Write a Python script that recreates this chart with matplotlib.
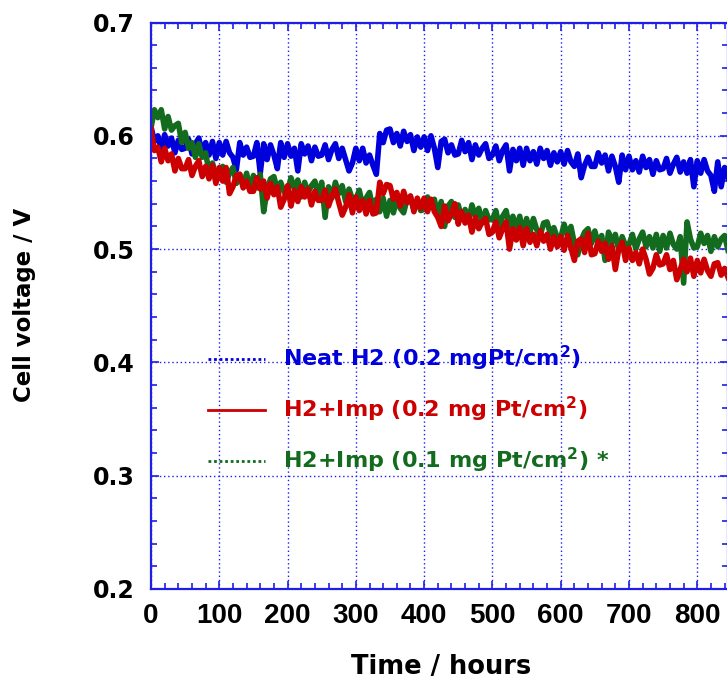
import numpy as np
import matplotlib
matplotlib.use("Agg")
import matplotlib.pyplot as plt
from matplotlib.lines import Line2D
from matplotlib.ticker import MultipleLocator

plt.rcParams["mathtext.default"] = "bf"

# Sampling times (hours), one reading every 5 h
hours = np.arange(0, 850, 5)

# Cell voltage (V) for each test
neat_h2 = [
    0.608, 0.595, 0.600, 0.588, 0.601, 0.591, 0.598, 0.585, 0.596, 0.588,
    0.589, 0.597, 0.584, 0.593, 0.598, 0.585, 0.594, 0.583, 0.595, 0.580,
    0.594, 0.583, 0.595, 0.585, 0.581, 0.570, 0.594, 0.583, 0.590, 0.581,
    0.582, 0.594, 0.567, 0.593, 0.579, 0.592, 0.583, 0.571, 0.594, 0.581,
    0.593, 0.582, 0.589, 0.569, 0.593, 0.584, 0.591, 0.578, 0.590, 0.582,
    0.583, 0.592, 0.579, 0.588, 0.593, 0.580, 0.589, 0.579, 0.569, 0.576,
    0.589, 0.578, 0.589, 0.576, 0.583, 0.574, 0.566, 0.602, 0.594, 0.605,
    0.606, 0.594, 0.602, 0.591, 0.604, 0.595, 0.601, 0.587, 0.599, 0.590,
    0.599, 0.587, 0.600, 0.589, 0.572, 0.595, 0.597, 0.585, 0.592, 0.583,
    0.584, 0.596, 0.586, 0.594, 0.579, 0.592, 0.583, 0.589, 0.593, 0.580,
    0.583, 0.591, 0.578, 0.587, 0.592, 0.569, 0.588, 0.578, 0.589, 0.574,
    0.589, 0.578, 0.586, 0.575, 0.589, 0.580, 0.587, 0.574, 0.585, 0.577,
    0.586, 0.575, 0.587, 0.577, 0.573, 0.584, 0.563, 0.574, 0.581, 0.573,
    0.573, 0.585, 0.576, 0.583, 0.569, 0.582, 0.573, 0.559, 0.583, 0.570,
    0.582, 0.570, 0.578, 0.568, 0.582, 0.572, 0.579, 0.566, 0.578, 0.570,
    0.571, 0.580, 0.567, 0.575, 0.581, 0.568, 0.577, 0.567, 0.579, 0.555,
    0.578, 0.567, 0.579, 0.569, 0.565, 0.551, 0.577, 0.555, 0.572, 0.563,
]

imp_02 = [
    0.606, 0.587, 0.590, 0.577, 0.589, 0.578, 0.584, 0.569, 0.580, 0.571,
    0.571, 0.579, 0.565, 0.573, 0.578, 0.564, 0.573, 0.562, 0.574, 0.558,
    0.572, 0.560, 0.572, 0.549, 0.555, 0.565, 0.566, 0.554, 0.560, 0.551,
    0.551, 0.563, 0.553, 0.560, 0.545, 0.558, 0.548, 0.555, 0.537, 0.544,
    0.556, 0.538, 0.552, 0.542, 0.555, 0.546, 0.553, 0.539, 0.551, 0.543,
    0.543, 0.552, 0.538, 0.547, 0.553, 0.541, 0.530, 0.537, 0.548, 0.532,
    0.546, 0.534, 0.543, 0.531, 0.543, 0.531, 0.532, 0.559, 0.549, 0.557,
    0.556, 0.544, 0.550, 0.538, 0.551, 0.541, 0.547, 0.533, 0.545, 0.536,
    0.545, 0.533, 0.544, 0.533, 0.528, 0.520, 0.538, 0.525, 0.531, 0.540,
    0.522, 0.533, 0.523, 0.530, 0.515, 0.528, 0.518, 0.524, 0.527, 0.513,
    0.515, 0.524, 0.510, 0.518, 0.524, 0.500, 0.518, 0.508, 0.519, 0.503,
    0.518, 0.506, 0.513, 0.503, 0.516, 0.507, 0.513, 0.500, 0.511, 0.502,
    0.511, 0.499, 0.512, 0.501, 0.490, 0.507, 0.509, 0.497, 0.514, 0.495,
    0.496, 0.507, 0.498, 0.505, 0.491, 0.503, 0.482, 0.500, 0.506, 0.490,
    0.501, 0.490, 0.497, 0.487, 0.500, 0.491, 0.478, 0.483, 0.495, 0.486,
    0.487, 0.495, 0.482, 0.490, 0.473, 0.482, 0.491, 0.480, 0.492, 0.476,
    0.490, 0.479, 0.491, 0.481, 0.476, 0.487, 0.488, 0.477, 0.483, 0.475,
]

imp_01 = [
    0.607, 0.623, 0.616, 0.623, 0.606, 0.617, 0.605, 0.609, 0.611, 0.594,
    0.603, 0.589, 0.594, 0.581, 0.593, 0.581, 0.585, 0.568, 0.576, 0.566,
    0.565, 0.573, 0.559, 0.567, 0.572, 0.558, 0.566, 0.556, 0.567, 0.552,
    0.565, 0.554, 0.566, 0.533, 0.552, 0.562, 0.564, 0.552, 0.559, 0.550,
    0.551, 0.563, 0.553, 0.561, 0.546, 0.559, 0.550, 0.556, 0.560, 0.547,
    0.559, 0.528, 0.555, 0.545, 0.559, 0.549, 0.556, 0.542, 0.553, 0.544,
    0.544, 0.552, 0.538, 0.545, 0.550, 0.536, 0.544, 0.533, 0.545, 0.529,
    0.543, 0.532, 0.545, 0.536, 0.532, 0.544, 0.546, 0.535, 0.542, 0.534,
    0.535, 0.546, 0.537, 0.544, 0.529, 0.542, 0.520, 0.538, 0.542, 0.528,
    0.539, 0.527, 0.535, 0.525, 0.539, 0.529, 0.536, 0.523, 0.534, 0.526,
    0.526, 0.534, 0.520, 0.529, 0.534, 0.520, 0.529, 0.518, 0.529, 0.513,
    0.527, 0.515, 0.527, 0.517, 0.512, 0.523, 0.524, 0.513, 0.519, 0.510,
    0.510, 0.522, 0.512, 0.520, 0.505, 0.495, 0.508, 0.515, 0.518, 0.505,
    0.516, 0.504, 0.512, 0.490, 0.515, 0.506, 0.513, 0.499, 0.511, 0.503,
    0.504, 0.513, 0.500, 0.509, 0.515, 0.502, 0.511, 0.501, 0.513, 0.498,
    0.512, 0.501, 0.514, 0.504, 0.500, 0.511, 0.470, 0.524, 0.509, 0.501,
    0.502, 0.514, 0.505, 0.512, 0.498, 0.511, 0.502, 0.509, 0.512, 0.499,
]

labels = [
    r"Neat H2 (0.2 mgPt/cm$^{2}$)",
    r"H2+Imp (0.2 mg Pt/cm$^{2}$)",
    r"H2+Imp (0.1 mg Pt/cm$^{2}$) *",
]
colors = ["#0000DC", "#CC0000", "#136B1E"]
styles = [(0, (1, 1)), "-", (0, (1, 1))]

x_ticks = [0, 100, 200, 300, 400, 500, 600, 700, 800]
y_ticks = [0.2, 0.3, 0.4, 0.5, 0.6, 0.7]

frame_blue = "#1E1EE6"

fig = plt.figure(figsize=(7.27, 6.84), dpi=100)
ax = fig.add_axes([151 / 727, 95 / 684, 577 / 727, 566.5 / 684])

trace_kw = dict(lw=4.0, solid_joinstyle="round")
ax.plot(hours, neat_h2, color=colors[0], **trace_kw)
ax.plot(hours, imp_01, color=colors[2], **trace_kw)
ax.plot(hours, imp_02, color=colors[1], **trace_kw)

ax.set_xlim(0, 845)
ax.set_ylim(0.2, 0.7)
ax.set_xticks(x_ticks)
ax.set_yticks(y_ticks)
ax.set_yticklabels([f"{v:.1f}" for v in y_ticks])
ax.xaxis.set_minor_locator(MultipleLocator(20))
ax.yaxis.set_minor_locator(MultipleLocator(0.02))

ax.grid(True, which="major", color=frame_blue, lw=1.0, ls=(0, (1, 2)))
for s in ax.spines.values():
    s.set_color(frame_blue)
    s.set_linewidth(1.6)

ax.tick_params(which="both", direction="in", top=True, right=True,
               color=frame_blue, width=1.2)
ax.tick_params(which="major", length=6)
ax.tick_params(which="minor", length=4)
ax.tick_params(axis="y", pad=12, labelsize=17)
ax.tick_params(axis="x", pad=10)
for t in ax.get_yticklabels():
    t.set_fontweight("bold")
    t.set_family("DejaVu Sans")
for t in ax.get_xticklabels():
    t.set_fontweight("bold")
    t.set_family("Liberation Sans")
    t.set_fontsize(20)

fig.text(441 / 727, 1 - 667 / 684, "Time / hours", ha="center", va="center",
         fontsize=18.5, fontweight="bold", family="DejaVu Sans")
fig.text(25 / 727, 1 - 305 / 684, "Cell voltage / V", ha="center", va="center",
         rotation=90, fontsize=16.5, fontweight="bold", family="DejaVu Sans")

handles = [Line2D([], [], color=c, lw=2, ls=s) for c, s in zip(colors, styles)]
leg = ax.legend(handles, labels, loc="upper left", bbox_to_anchor=(0.099, 0.432),
                frameon=False, borderpad=0, borderaxespad=0, handlelength=2.55,
                handletextpad=0.8, labelspacing=0.98,
                prop={"weight": "bold", "size": 16, "family": "DejaVu Sans"})
for txt, c in zip(leg.get_texts(), colors):
    txt.set_color(c)

fig.savefig("out.png", dpi=100)
